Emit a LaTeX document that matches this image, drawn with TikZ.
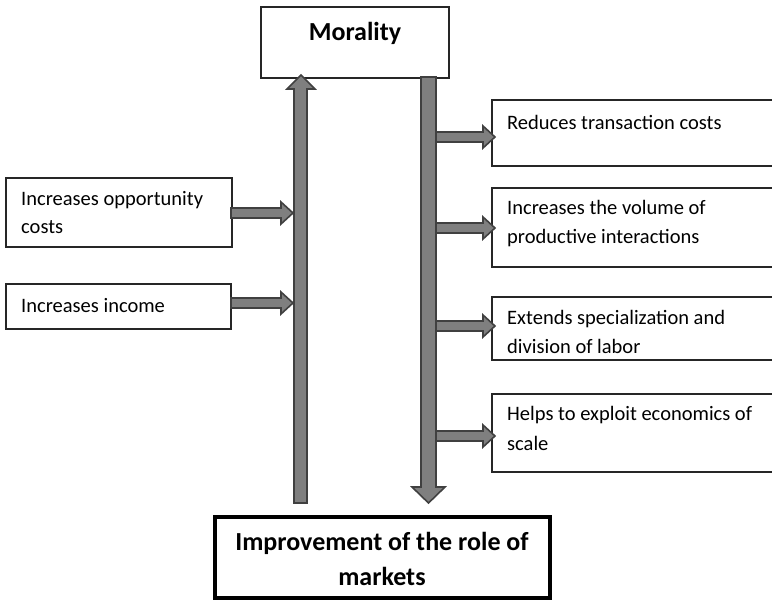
\documentclass[tikz,border=0pt]{standalone}
\usepackage{fontspec}
\setmainfont{Carlito}
\definecolor{arrfill}{HTML}{7F7F7F}
\definecolor{arrline}{HTML}{404040}
\definecolor{boxline}{HTML}{262626}
\tikzset{
  box/.style={draw=boxline, line width=1.2pt, anchor=north west, inner sep=0pt, outer sep=0pt},
  txt/.style={anchor=base west, inner sep=0pt, font=\fontsize{20.5}{24}\selectfont},
  btxt/.style={anchor=base, inner sep=0pt, font=\bfseries\fontsize{26}{30}\selectfont},
  blockarrow/.style={fill=arrfill, draw=arrline, line width=1.6pt, line join=miter},
}
\newcommand\rarrowshape[3]{%
  \draw[blockarrow] (#1,#3-5) -- (#2-12,#3-5) -- (#2-12,#3-11) -- (#2,#3) -- (#2-12,#3+11) -- (#2-12,#3+5) -- (#1,#3+5) -- cycle;}
\begin{document}
\begin{tikzpicture}[x=1pt,y=-1pt]
\useasboundingbox (0,0) rectangle (772,600);
\clip (0,0) rectangle (772,600);
% boxes
\node[box, minimum width=188pt, minimum height=71pt] (moral) at (261,7) {};
\node[box, draw=black, line width=4pt, minimum width=335pt, minimum height=81pt] (market) at (215,517) {};
\node[box, minimum width=226pt, minimum height=69pt] (opp) at (6,178) {};
\node[box, minimum width=225pt, minimum height=45pt] (inc) at (6,284) {};
\node[box, minimum width=320pt, minimum height=66pt] (red) at (492,100) {};
\node[box, minimum width=320pt, minimum height=79pt] (vol) at (492,188) {};
\node[box, minimum width=320pt, minimum height=63pt] (spec) at (492,297) {};
\node[box, minimum width=320pt, minimum height=78pt] (scale) at (492,394) {};
% texts
\node[btxt] (tmoral) at (355,40) {Morality};
\node[btxt] (tmk1) at (382,550) {Improvement of the role of};
\node[btxt] (tmk2) at (382,585) {markets};
\node[txt] (topp1) at (21,205) {Increases opportunity};
\node[txt] (topp2) at (21,233) {costs};
\node[txt] (tinc) at (21,312) {Increases income};
\node[txt] (tred) at (507,129) {Reduces transaction costs};
\node[txt] (tvol1) at (507,214) {Increases the volume of};
\node[txt] (tvol2) at (507,243) {productive interactions};
\node[txt] (tspec1) at (507,324) {Extends specialization and};
\node[txt] (tspec2) at (507,353) {division of labor};
\node[txt] (tscale1) at (507,420) {Helps to exploit economics of};
\node[txt] (tscale2) at (507,450) {scale};
% small arrows
\rarrowshape{231}{293}{213}
\rarrowshape{231}{293}{303}
\rarrowshape{436}{495}{137}
\rarrowshape{436}{495}{228}
\rarrowshape{436}{495}{326}
\rarrowshape{436}{495}{436}
% vertical arrows
\draw[blockarrow] (294,503) -- (307,503) -- (307,89) -- (315,89) -- (301,75) -- (287,89) -- (294,89) -- cycle;
\draw[blockarrow] (421,77) -- (436,77) -- (436,487) -- (445,487) -- (428.5,503) -- (412,487) -- (421,487) -- cycle;
\end{tikzpicture}
\end{document}
